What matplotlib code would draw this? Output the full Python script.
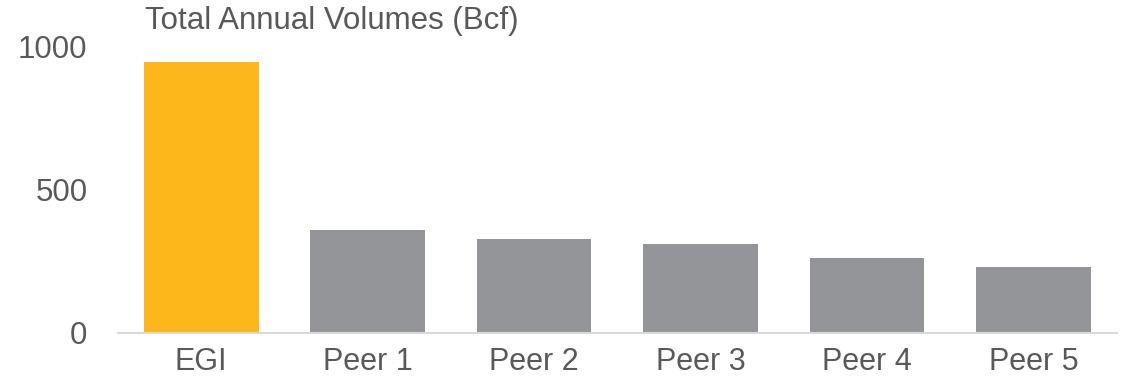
import matplotlib
matplotlib.use("Agg")
import matplotlib.pyplot as plt

plt.rcParams['font.family'] = ['Liberation Sans', 'DejaVu Sans']

categories = ['EGI', 'Peer 1', 'Peer 2', 'Peer 3', 'Peer 4', 'Peer 5']
volumes = [947, 360, 329, 311, 262, 231]
colors = ['#FDB71A', '#939598', '#939598', '#939598', '#939598', '#939598']

text_color = '#595959'

fig = plt.figure(figsize=(11.29, 3.81), dpi=100)
ax = fig.add_axes([0.1045, 0.126, 0.8845, 0.751])

ax.bar(range(len(categories)), volumes, width=0.69, color=colors)
ax.set_xlim(-0.5, len(categories) - 0.5)
ax.set_ylim(0, 1000)
ax.set_yticks([0, 500, 1000])
ax.set_xticks(range(len(categories)))
ax.set_xticklabels(categories)

for s in ['top', 'right', 'left']:
    ax.spines[s].set_visible(False)
ax.spines['bottom'].set_color('#d9d9d9')
ax.spines['bottom'].set_linewidth(1.5)
ax.tick_params(axis='both', length=0, colors=text_color)
ax.tick_params(axis='x', labelsize=22, pad=10)
ax.tick_params(axis='y', labelsize=22.5, pad=22)

fig.text(0.1285, 0.945, 'Total Annual Volumes (Bcf)', fontsize=22.5,
         color=text_color, va='center', ha='left')

fig.savefig('out.png', dpi=100)
